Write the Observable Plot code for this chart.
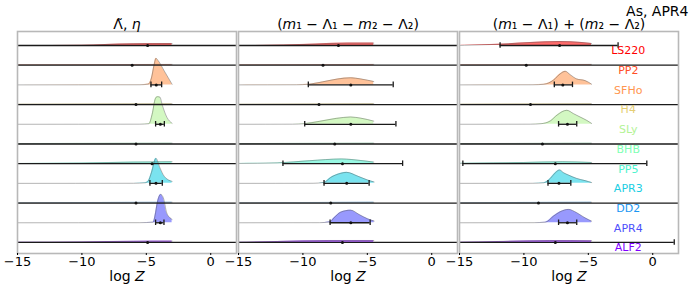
<!DOCTYPE html>
<html>
<head>
<meta charset="utf-8">
<script src="https://cdn.jsdelivr.net/npm/d3@7"></script>
<script src="https://cdn.jsdelivr.net/npm/@observablehq/plot@0.6"></script>
<style>
  html, body { margin: 0; padding: 0; background: white; }
  #chart { width: 690px; height: 288px; }
</style>
</head>
<body>
<div id="chart"></div>
<script>
// ---------- data ----------
const eos = ["LS220", "PP2", "SFHo", "H4", "SLy", "BHB", "PP5", "APR3", "DD2", "APR4", "ALF2"];
const panelIds = [0, 1, 2];
const titles = ["Λ̃, η", "(m₁ − Λ₁ − m₂ − Λ₂)", "(m₁ − Λ₁) + (m₂ − Λ₂)"];
const cornerLabel = "As, APR4";
const xLabel = "log Z";
const xTicks = [-15, -10, -5, 0];

// density knots [logZ, density] per EOS (panel 1: Λ̃, η)
const dens1 = [
  [[-15, 0], [-10, 0.01], [-8.2, 0.05], [-6, 0.09], [-3.0, 0.1]],
  [[-15, 0.02], [-3.0, 0.04]],
  [[-15, 0], [-5.5, 0.005], [-4.85, 0.04], [-4.6, 0.35], [-4.4, 1.0], [-4.25, 1.35], [-4.1, 1.25], [-3.6, 0.7], [-3.0, 0.03]],
  [[-15, 0.02], [-3.0, 0.04]],
  [[-15, 0], [-5.5, 0.005], [-4.8, 0.03], [-4.55, 0.5], [-4.3, 1.3], [-4.15, 1.4], [-3.95, 1.38], [-3.75, 0.95], [-3.4, 0.35], [-3.0, 0.05]],
  [[-15, 0.02], [-3.0, 0.04]],
  [[-15, 0.01], [-10, 0.03], [-6, 0.08], [-3.0, 0.1]],
  [[-15, 0], [-6, 0.005], [-5.1, 0.03], [-4.85, 0.12], [-4.6, 0.55], [-4.25, 1.27], [-3.95, 0.8], [-3.6, 0.35], [-3.0, 0.1]],
  [[-15, 0.02], [-3.0, 0.04]],
  [[-15, 0], [-5.5, 0.005], [-4.46, 0.03], [-4.33, 0.34], [-4.12, 1.1], [-3.89, 1.44], [-3.68, 1.27], [-3.42, 0.51], [-3.16, 0.25], [-3.0, 0.17]],
  [[-15, 0.01], [-10, 0.03], [-6, 0.06], [-3.0, 0.07]]
];
// panel 2: (m1 − Λ1 − m2 − Λ2)
const dens2 = [
  [[-15, 0], [-11.5, 0.02], [-9, 0.07], [-6.5, 0.12], [-4.5, 0.12]],
  [[-15, 0.02], [-4.5, 0.04]],
  [[-15, 0], [-10.5, 0.005], [-9.6, 0.03], [-8.5, 0.15], [-7.3, 0.3], [-6.3, 0.36], [-5.5, 0.3], [-4.5, 0.17]],
  [[-15, 0.02], [-4.5, 0.04]],
  [[-15, 0], [-10.8, 0.005], [-9.9, 0.03], [-8.7, 0.15], [-7.4, 0.3], [-6.3, 0.37], [-5.5, 0.31], [-4.5, 0.16]],
  [[-15, 0.02], [-4.5, 0.04]],
  [[-15, 0.01], [-12, 0.04], [-9.5, 0.15], [-7, 0.24], [-5.5, 0.16], [-4.5, 0.08]],
  [[-15, 0], [-9.2, 0.005], [-8.36, 0.05], [-7.84, 0.3], [-7.06, 0.51], [-6.6, 0.56], [-5.76, 0.37], [-4.98, 0.17], [-4.47, 0.07]],
  [[-15, 0.02], [-4.5, 0.04]],
  [[-15, 0], [-8.7, 0.005], [-7.89, 0.05], [-7.58, 0.25], [-7.06, 0.54], [-6.28, 0.64], [-5.64, 0.42], [-4.98, 0.2], [-4.47, 0.085]],
  [[-15, 0.01], [-12, 0.05], [-8, 0.1], [-4.5, 0.1]]
];
// panel 3: (m1 − Λ1) + (m2 − Λ2)
const dens3 = [
  [[-15, 0], [-14.6, 0.01], [-12, 0.06], [-9.5, 0.15], [-7.2, 0.2], [-5.5, 0.15], [-4.75, 0.1]],
  [[-15, 0.02], [-4.75, 0.04]],
  [[-15, 0], [-9.3, 0.005], [-8.46, 0.03], [-7.69, 0.25], [-7.18, 0.56], [-6.79, 0.69], [-6.41, 0.52], [-5.9, 0.3], [-5.26, 0.22], [-5.0, 0.14], [-4.74, 0.03]],
  [[-15, 0.02], [-4.75, 0.04]],
  [[-15, 0], [-9.5, 0.005], [-8.67, 0.03], [-7.95, 0.17], [-7.44, 0.46], [-6.67, 0.71], [-6.15, 0.54], [-5.64, 0.37], [-5.13, 0.2], [-4.74, 0.04]],
  [[-15, 0.02], [-4.75, 0.04]],
  [[-15, 0.01], [-14.7, 0.02], [-10, 0.06], [-7, 0.1], [-4.74, 0.06]],
  [[-15, 0], [-9.3, 0.005], [-8.46, 0.03], [-7.95, 0.25], [-7.56, 0.54], [-7.23, 0.68], [-6.92, 0.54], [-6.54, 0.42], [-5.9, 0.25], [-5.26, 0.14], [-4.74, 0.04]],
  [[-15, 0.02], [-4.75, 0.04]],
  [[-15, 0], [-9.2, 0.005], [-8.33, 0.03], [-7.69, 0.34], [-7.18, 0.56], [-6.54, 0.68], [-5.9, 0.51], [-5.26, 0.25], [-4.74, 0.08]],
  [[-15, 0.01], [-12, 0.05], [-8, 0.1], [-4.74, 0.09]]
];

// error bars: median, lower, upper (values far outside the axis run off the panel)
const med1 = [-4.9, -6.1, -4.23, -5.8, -3.91, -5.8, -4.55, -4.25, -5.8, -3.91, -4.9];
const lo1  = [-20, -20, -4.64, -20, -4.28, -20, -20, -4.72, -20, -4.28, -20];
const hi1  = [8, 8, -3.81, 8, -3.6, 8, 8, -3.76, 8, -3.63, 8];
const med2 = [-7.24, -8.44, -6.28, -8.75, -6.28, -7.53, -6.93, -6.6, -7.84, -6.28, -6.93];
const lo2  = [-20, -20, -9.58, -20, -9.86, -20, -11.55, -8.36, -20, -7.89, -20];
const hi2  = [8, 8, -2.99, 8, -2.78, 8, -2.26, -4.86, 8, -4.78, 8];
const med3 = [-7.23, -9.82, -6.98, -9.49, -6.62, -8.56, -7.56, -7.28, -8.87, -6.62, -7.56];
const lo3  = [-11.85, -20, -7.64, -20, -7.31, -20, -14.74, -8.13, -20, -7.31, -20];
const hi3  = [-2.69, 8, -6.23, 8, -5.9, 8, -0.46, -6.36, 8, -5.9, 1.67];

// ---------- styling helpers ----------
function mplRainbow(t) {
  const r = Math.min(1, Math.abs(2 * t - 0.5));
  const g = Math.sin(Math.PI * t);
  const b = Math.cos(Math.PI * t / 2);
  return d3.rgb(r * 255, g * 255, b * 255).formatHex();
}
const eosColors = eos.map((_, i) => mplRainbow(1 - i / (eos.length - 1)));

// ---------- tables ----------
const ridge = [];
[dens1, dens2, dens3].forEach((dp, p) =>
  dp.forEach((pts, i) => pts.forEach(([x, h]) => ridge.push({panel: p, eos: eos[i], i, x, h}))));
const bars = [];
[[med1, lo1, hi1], [med2, lo2, hi2], [med3, lo3, hi3]].forEach(([m, l, h], p) =>
  eos.forEach((e, i) => bars.push({panel: p, eos: e, i, med: m[i], lo: l[i], hi: h[i]})));

const capH = 0.14;
const chart = Plot.plot({
  width: 690,
  height: 288,
  marginLeft: 16,
  marginRight: 12,
  marginTop: 31,
  marginBottom: 35,
  style: {fontFamily: "DejaVu Sans", fontSize: "13px", background: "white", color: "black"},
  fx: {axis: null, paddingInner: 0.01, paddingOuter: 0},
  x: {domain: [-15, 2]},
  y: {domain: [-10.56, 0.71], axis: null},
  color: {domain: eos, range: eosColors},
  marks: [
    Plot.areaY(ridge, {fx: "panel", x: "x", y1: d => -d.i, y2: d => -d.i + d.h, z: "eos",
      fill: "eos", fillOpacity: 0.58, curve: "monotone-x", clip: true}),
    Plot.lineY(ridge, {fx: "panel", x: "x", y: d => -d.i + d.h, z: "eos",
      stroke: "#555", strokeOpacity: 0.55, strokeWidth: 0.8, curve: "monotone-x", clip: true}),
    Plot.ruleY(bars, {fx: "panel", x1: "lo", x2: "hi", y: d => -d.i, stroke: "#1a1a1a", strokeWidth: 1.3, clip: true}),
    Plot.ruleX(bars, {fx: "panel", x: "lo", y1: d => -d.i - capH, y2: d => -d.i + capH, stroke: "#1a1a1a", strokeWidth: 1.3, clip: true}),
    Plot.ruleX(bars, {fx: "panel", x: "hi", y1: d => -d.i - capH, y2: d => -d.i + capH, stroke: "#1a1a1a", strokeWidth: 1.3, clip: true}),
    Plot.dot(bars, {fx: "panel", x: "med", y: d => -d.i, r: 1.5, fill: "#111", stroke: null}),
    Plot.text(eos, {fx: () => 2, x: -1.9, y: (d, i) => -i - 0.27, text: d => d, fill: d => d, fontSize: 11}),
    Plot.frame({stroke: "#b8b8b8", strokeWidth: 1.6}),
    Plot.axisX({ticks: xTicks, tickSize: 2, tickPadding: 1, fontSize: 13, label: null, tickFormat: d => d < 0 ? "−" + (-d) : String(d)}),
    Plot.text(panelIds, {fx: d => d, frameAnchor: "bottom", dy: 18, lineAnchor: "top", text: () => xLabel, fontSize: 14}),
    Plot.text(panelIds, {fx: d => d, frameAnchor: "top", dy: -3, lineAnchor: "bottom", text: d => titles[d], fontSize: 14}),
    Plot.text([2], {fx: d => d, frameAnchor: "top-right", dx: 10, dy: -16, lineAnchor: "bottom", textAnchor: "end", text: () => cornerLabel, fontSize: 14})
  ]
});

// mathtext-like italics
const rich = {
  "log Z": 'log <tspan font-style="italic">Z</tspan>',
  "Λ̃, η": 'Λ̃, <tspan font-style="italic">η</tspan>',
  "(m₁ − Λ₁ − m₂ − Λ₂)": '(<tspan font-style="italic">m</tspan>₁ − Λ₁ − <tspan font-style="italic">m</tspan>₂ − Λ₂)',
  "(m₁ − Λ₁) + (m₂ − Λ₂)": '(<tspan font-style="italic">m</tspan>₁ − Λ₁) + (<tspan font-style="italic">m</tspan>₂ − Λ₂)'
};
chart.querySelectorAll("text").forEach(t => {
  const s = t.textContent;
  if (rich[s] && t.children.length === 0) t.innerHTML = rich[s];
});
document.getElementById("chart").appendChild(chart);
</script>
</body>
</html>
